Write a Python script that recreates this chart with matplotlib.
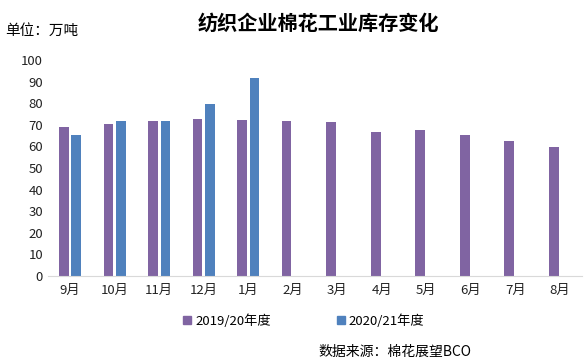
import matplotlib
matplotlib.use("Agg")
import matplotlib.pyplot as plt
import numpy as np
from matplotlib.patches import Patch

plt.rcParams['font.family'] = ['Noto Sans CJK SC', 'DejaVu Sans']

months = ["9月", "10月", "11月", "12月", "1月", "2月", "3月", "4月", "5月", "6月", "7月", "8月"]
stock_1920 = [69.1, 70.3, 71.6, 72.6, 72.2, 71.6, 71.1, 66.9, 67.4, 65.1, 62.3, 59.8]
stock_2021 = [65.1, 71.6, 71.6, 79.6, 91.8]
series_names = ["2019/20年度", "2020/21年度"]

purple = "#8064A2"
blue = "#4F81BD"

fig = plt.figure(figsize=(5.84, 3.64), dpi=100)
ax = fig.add_axes([0.082, 0.242, 0.915, 0.593])

x = np.arange(len(months))
ax.bar(x - 0.14, stock_1920, width=0.22, color=purple)
ax.bar(x[:len(stock_2021)] + 0.14, stock_2021, width=0.22, color=blue)

ax.set_xlim(-0.5, len(months) - 0.5)
ax.set_ylim(0, 100)
ax.set_yticks(range(0, 101, 10))
ax.set_xticks(x)
ax.set_xticklabels(months)
ax.tick_params(axis="both", length=0, labelsize=9.5, colors="#222222")
ax.tick_params(axis="x", pad=6)
for s in ["top", "right", "left"]:
    ax.spines[s].set_visible(False)
ax.spines["bottom"].set_color("#d9d9d9")

fig.text(0.545, 0.935, "纺织企业棉花工业库存变化", ha="center", va="center",
         fontsize=14.5, fontweight="bold")
fig.text(0.008, 0.915, "单位：万吨", ha="left", va="center", fontsize=10.5)

handles = [Patch(color=purple), Patch(color=blue)]
fig.legend(handles, series_names, loc="center", bbox_to_anchor=(0.52, 0.118),
           ncol=2, frameon=False, fontsize=9.5, handlelength=0.6, handleheight=0.6,
           handletextpad=0.3, columnspacing=5.0)

fig.text(0.676, 0.033, "数据来源：棉花展望BCO", ha="center", va="center", fontsize=10)

fig.savefig("out.png", dpi=100)
